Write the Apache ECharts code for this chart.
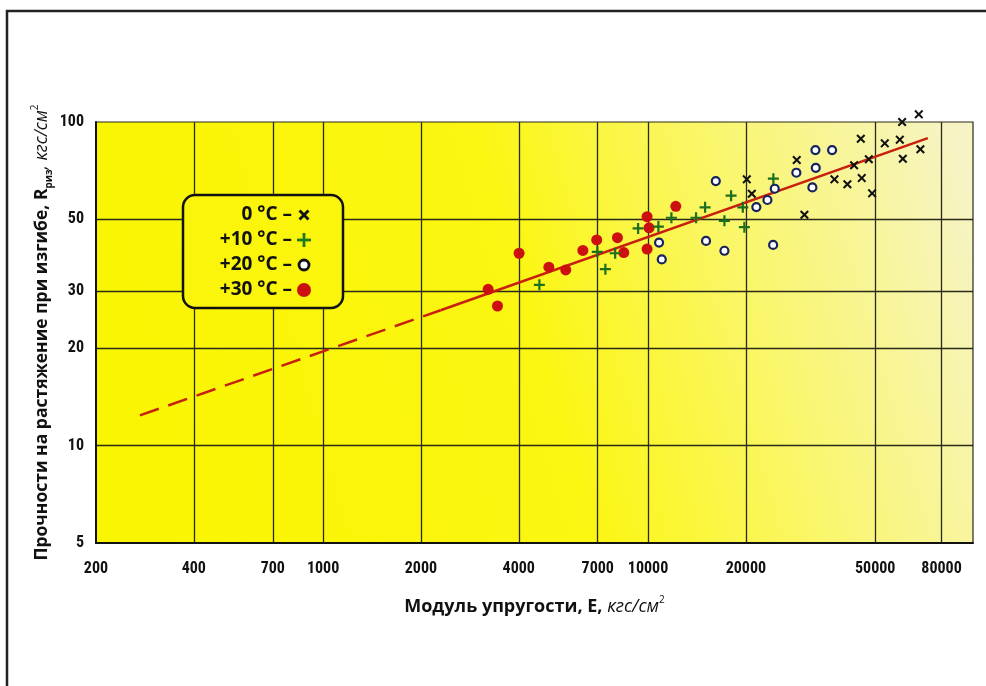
<!DOCTYPE html>
<html>
<head>
<meta charset="utf-8">
<script src="https://cdn.jsdelivr.net/npm/echarts@6/dist/echarts.min.js"></script>
<style>
html,body{margin:0;padding:0;background:#fff;}
#chart{width:986px;height:686px;}
</style>
</head>
<body>
<div id="chart"></div>
<script>
// Tick labels
const xTicks = [200, 400, 700, 1000, 2000, 4000, 7000, 10000, 20000, 50000, 80000];
const yTicks = [5, 10, 20, 30, 50, 100];
const xGridValues = [400, 700, 1000, 2000, 4000, 7000, 10000, 20000, 50000, 80000];
const yGridValues = [10, 20, 30, 50];

// Series: [E, R]
const temp0 = [[20130,66.5],[20860,60.0],[30280,51.7],[28680,76.3],[37460,66.5],[41060,64.2],[43060,73.5],[45460,67.1],[47800,76.7],[48920,60.2],[45160,88.8],[53520,85.9],[59540,88.2],[60520,100],[68100,105.6],[60820,77.0],[68880,82.4]];
const temp10 = [[4630,31.4],[6980,39.7],[7390,35.1],[7920,39.3],[9320,46.9],[10760,47.5],[11800,50.6],[14050,50.6],[14980,54.5],[17180,49.5],[18010,59.2],[19570,54.5],[19790,47.3],[24300,66.8]];
const temp20 = [[10810,42.4],[11020,37.6],[16160,65.7],[15080,42.9],[17180,40.0],[21540,54.6],[23300,57.4],[24540,62.2],[24260,41.7],[28600,69.7],[32740,81.9],[36840,81.9],[32820,72.2],[32040,62.8]];
const temp30 = [[3220,30.4],[3440,27.0],[4010,39.3],[4950,35.6],[5580,34.9],[6300,40.1],[6950,43.2],[8050,43.9],[8420,39.5],[9930,51.0],[10070,47.1],[9930,40.5],[12170,54.9]];
const trendDashed = [[273,12.4],[2300,26.2]];
const trendSolid = [[2300,26.2],[72600,89.2]];

const legendLabels = ['0 °C –', '+10 °C –', '+20 °C –', '+30 °C –'];

const PLUS = 'path://M4,0H6V4H10V6H6V10H4V6H0V4H4Z';
const CROSS = 'path://M1.6,0L5,3.4L8.4,0L10,1.6L6.6,5L10,8.4L8.4,10L5,6.6L1.6,10L0,8.4L3.4,5L0,1.6Z';

const BOLD = '"Open Sans", "DejaVu Sans", sans-serif';
const NARROW = '"Liberation Sans Narrow", "Roboto Condensed", "Arial Narrow", "Liberation Sans", sans-serif';
const YEL = '#FAF50A';

const chart = echarts.init(document.getElementById('chart'), null, {renderer: 'canvas'});

const legendY = [215, 240, 265, 290];
const MX = 304;
const legendGraphic = [
  {type:'rect', shape:{x:183, y:195, width:160, height:113, r:12}, style:{fill:YEL, stroke:'#111', lineWidth:2.5}, z:100}
];
legendLabels.forEach((t, i) => {
  legendGraphic.push({type:'text', x:292, y:legendY[i], style:{text:t, align:'right', verticalAlign:'middle', font:'bold 19px ' + BOLD, fill:'#111'}, z:101});
});
legendGraphic.push({type:'line', shape:{x1:MX-4.5, y1:legendY[0]-4.5, x2:MX+4.5, y2:legendY[0]+4.5}, style:{stroke:'#111', lineWidth:2.8}, z:101});
legendGraphic.push({type:'line', shape:{x1:MX+4.5, y1:legendY[0]-4.5, x2:MX-4.5, y2:legendY[0]+4.5}, style:{stroke:'#111', lineWidth:2.8}, z:101});
legendGraphic.push({type:'line', shape:{x1:MX-7, y1:legendY[1], x2:MX+7, y2:legendY[1]}, style:{stroke:'#1d7a1d', lineWidth:2.8}, z:101});
legendGraphic.push({type:'line', shape:{x1:MX, y1:legendY[1]-7, x2:MX, y2:legendY[1]+7}, style:{stroke:'#1d7a1d', lineWidth:2.8}, z:101});
legendGraphic.push({type:'circle', shape:{cx:MX, cy:legendY[2], r:5}, style:{stroke:'#111', lineWidth:2.8, fill:'#fff'}, z:101});
legendGraphic.push({type:'circle', shape:{cx:MX, cy:legendY[3], r:7}, style:{fill:'#cc1010'}, z:101});

const option = {
  backgroundColor: '#ffffff',
  animation: false,
  graphic: [
    {type:'rect', shape:{x:7, y:11, width:1000, height:700}, style:{fill:'transparent', stroke:'#222', lineWidth:2.5}, z:-10, silent:true},
    ...legendGraphic
  ],
  grid: {
    left: 96, top: 122, right: 13, bottom: 143,
    show: true,
    borderColor: '#2a2a18', borderWidth: 1.2,
    backgroundColor: {
      type: 'linear', x: 0, y: 0.8, x2: 1, y2: 0.2,
      colorStops: [
        {offset: 0, color: '#FAF500'},
        {offset: 0.5, color: '#FBF612'},
        {offset: 0.75, color: '#FAF66E'},
        {offset: 1, color: '#F6F4C4'}
      ]
    }
  },
  xAxis: {
    type: 'log', logBase: 10, min: 200, max: 100000,
    name: '{b|Модуль упругости, E, }{i|кгс/см}{sup|2}',
    nameLocation: 'middle', nameGap: 52, nameMoveOverlap: false,
    nameTextStyle: {
      rich: {
        b: {fontFamily: BOLD, fontWeight: 'bold', fontSize: 18, color: '#111', lineHeight: 24},
        i: {fontFamily: BOLD, fontStyle: 'italic', fontWeight: 'normal', fontSize: 18, color: '#111', lineHeight: 24},
        sup: {fontFamily: BOLD, fontSize: 10, color: '#111', lineHeight: 14, verticalAlign: 'top'}
      }
    },
    axisLine: {show: true, onZero: false, lineStyle: {color: '#111', width: 2}},
    axisTick: {show: false, customValues: xGridValues},
    axisLabel: {
      customValues: xTicks, margin: 18,
      fontFamily: NARROW, fontWeight: 'bold', fontSize: 16, color: '#111',
      formatter: v => String(Math.round(v))
    },
    splitLine: {show: true, lineStyle: {color: '#2a2a18', width: 1.3}},
    minorTick: {show: false}, minorSplitLine: {show: false}
  },
  yAxis: {
    type: 'log', logBase: 10, min: 5, max: 100,
    name: '{b|Прочности на растяжение при изгибе, R}{sub|риз}{i|, кгс/см}{sup|2}',
    nameLocation: 'middle', nameGap: 42, nameRotate: 90, nameMoveOverlap: false,
    nameTextStyle: {
      rich: {
        b: {fontFamily: BOLD, fontWeight: 'bold', fontSize: 17.5, color: '#111', lineHeight: 24},
        sub: {fontFamily: BOLD, fontWeight: 'bold', fontSize: 10, color: '#111', lineHeight: 11, verticalAlign: 'bottom'},
        i: {fontFamily: BOLD, fontStyle: 'italic', fontWeight: 'normal', fontSize: 17.5, color: '#111', lineHeight: 24},
        sup: {fontFamily: BOLD, fontSize: 10, color: '#111', lineHeight: 14, verticalAlign: 'top'}
      }
    },
    axisLine: {show: true, onZero: false, lineStyle: {color: '#111', width: 2}},
    axisTick: {show: false, customValues: yGridValues},
    axisLabel: {
      customValues: yTicks, margin: 12,
      fontFamily: NARROW, fontWeight: 'bold', fontSize: 16, color: '#111',
      formatter: v => String(Math.round(v))
    },
    splitLine: {show: true, lineStyle: {color: '#2a2a18', width: 1.3}},
    minorTick: {show: false}, minorSplitLine: {show: false}
  },
  series: [
    {type:'line', data: trendDashed, symbol:'none', lineStyle:{color:'#c8200e', width:2.5, type:[20,10]}, z:2, silent:true},
    {type:'line', data: trendSolid, symbol:'none', lineStyle:{color:'#c8200e', width:2.5}, z:2, silent:true},
    {type:'scatter', name:'+30', data: temp30, symbol:'circle', symbolSize: 11, itemStyle:{color:'#cc1010', opacity:1}, z:3, clip:false},
    {type:'scatter', name:'+10', data: temp10, symbol: PLUS, symbolSize: 11, itemStyle:{color:'#1d6e1d', opacity:1}, z:3, clip:false},
    {type:'scatter', name:'+20', data: temp20, symbol:'circle', symbolSize: 8, itemStyle:{color:'#ffffff', borderColor:'#15235e', borderWidth:2.2, opacity:1}, z:3, clip:false},
    {type:'scatter', name:'0', data: temp0, symbol: CROSS, symbolSize: 9, itemStyle:{color:'#111', opacity:1}, z:3, clip:false}
  ]
};
chart.setOption(option);
</script>
</body>
</html>
